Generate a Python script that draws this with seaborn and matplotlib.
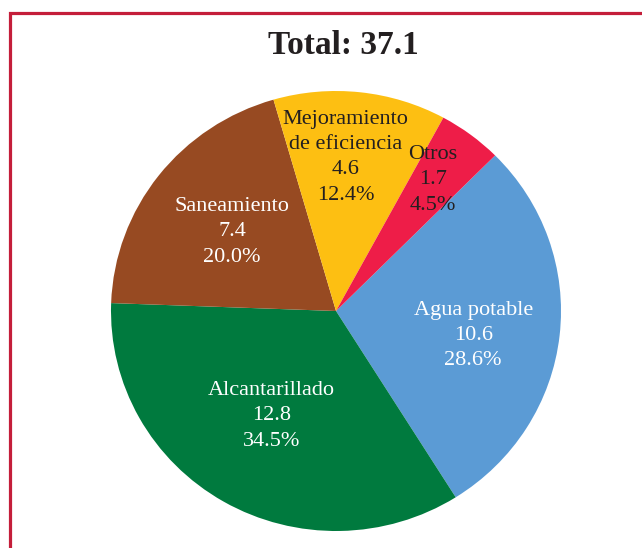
import matplotlib.pyplot as plt
import numpy as np
import seaborn as sns
from matplotlib.patches import Rectangle

categories = ["Agua potable", "Alcantarillado", "Saneamiento",
              "Mejoramiento\nde eficiencia", "Otros"]
values = [10.6, 12.8, 7.4, 4.6, 1.7]
shares = [28.6, 34.5, 20.0, 12.4, 4.5]
total = 37.1

colors = ["#5b9bd5", "#007a3e", "#974a22", "#fdbf12", "#ee1d48"]
text_colors = ["white", "white", "white", "#231f20", "#231f20"]
# label placement: fraction of radius and angle nudge (deg) from slice middle
label_dist = [0.62, 0.555, 0.585, 0.70, 0.735]
label_turn = [-4.0, -1.0, 0.0, 2.7, 1.0]

sns.set_theme(style="white")
plt.rcParams["font.family"] = ["Liberation Serif", "DejaVu Serif"]

W, H = 642, 548
fig = plt.figure(figsize=(W / 100, H / 100), dpi=100)
ax = fig.add_axes([0, 0, 1, 1])

# pie centre and radii in pixels
cx, cy = 336, 548 - 311
rx, ry = 225, 220

wedges, _ = ax.pie(values, colors=colors, startangle=45, counterclock=False,
                   radius=1, wedgeprops={"linewidth": 0})
ax.set_aspect("auto")
ax.set_xlim(-cx / rx, (W - cx) / rx)
ax.set_ylim(-cy / ry, (H - cy) / ry)
ax.axis("off")

for i, w in enumerate(wedges):
    ang = np.deg2rad((w.theta1 + w.theta2) / 2 + label_turn[i])
    d = label_dist[i]
    ax.text(d * np.cos(ang), d * np.sin(ang),
            f"{categories[i]}\n{values[i]:.1f}\n{shares[i]:.1f}%",
            ha="center", va="center", color=text_colors[i],
            fontsize=16, linespacing=1.45)

fig.text(343 / W, 1 - 46 / H, f"Total: {total}", ha="center", va="center",
         fontsize=24, fontweight="bold", color="#231f20")

# red frame, open at right and bottom
fig.add_artist(Rectangle((10.5 / W, -0.1), 1.2, 1.1 - 13.5 / H,
                         transform=fig.transFigure, fill=False,
                         edgecolor="#c41e3a", linewidth=2.3))

fig.savefig("out.png", dpi=100)
